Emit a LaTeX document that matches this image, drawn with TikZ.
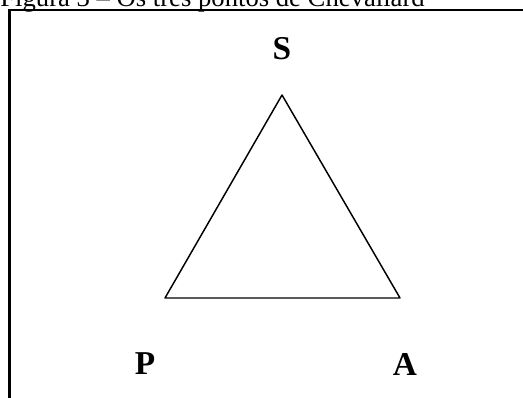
\documentclass[tikz,border=0pt]{standalone}
\usepackage{fontspec}
\setmainfont{Liberation Serif}
\begin{document}
\begin{tikzpicture}[x=0.75pt,y=-0.75pt,
  lbl/.style={font=\fontsize{25}{28}\selectfont\bfseries, inner sep=0pt},
  tri/.style={line width=1.1pt, line join=round},
  frame/.style={line width=1.9pt}]
\useasboundingbox (0,0) rectangle (523,398);
\clip (0,0) rectangle (523,398);
\node[anchor=base east, inner sep=0pt, font=\fontsize{20}{24}\selectfont] (cap) at (425,7) {Figura 3 -- Os três pontos de Chevallard};
\draw[frame] (9.5,410) -- (9.5,10) -- (530,10);
\coordinate (s) at (282,95);
\coordinate (p) at (165,298);
\coordinate (a) at (400,298);
\draw[tri] (s) -- (p) -- (a) -- cycle;
\node[lbl] (S) at (282,49) {S};
\node[lbl] (P) at (145,364) {P};
\node[lbl] (A) at (405,364) {A};
\end{tikzpicture}
\end{document}
